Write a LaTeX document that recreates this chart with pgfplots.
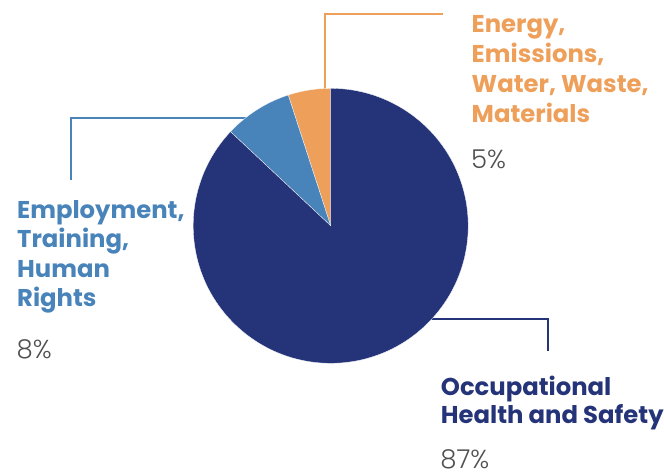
\documentclass[border=0pt]{standalone}
\usepackage{pgfplots}
\pgfplotsset{compat=1.18}
\usepackage{pgfplotstable}
\usepackage{fontspec}
\setmainfont{Poppins}
\newfontfamily\pctfont{Poppins Light}

\definecolor{cNavy}{RGB}{37,52,121}
\definecolor{cBlue}{RGB}{72,131,186}
\definecolor{cOrange}{RGB}{238,160,91}
\definecolor{cGrey}{RGB}{80,80,80}

% share of reported topics, counter-clockwise from 12 o'clock
\pgfplotstableread{
value
5
8
87
}\piedata

\newcommand\lab[1]{\fontsize{24.3bp}{30bp}\selectfont\bfseries #1}
\newcommand\pct[1]{\pctfont\fontsize{26bp}{30bp}\selectfont #1}

\begin{document}
\begin{tikzpicture}[x=1bp, y=-1bp]
\path[use as bounding box] (0,0) rectangle (664,476);

% leader lines
\draw[cOrange, line width=2bp] (325,90) -- (325,14) -- (443,14);
\draw[cBlue, line width=2bp] (250,118.3) -- (71,118.3) -- (71,180);
\draw[cNavy, line width=2bp] (420,319) -- (547.7,319) -- (547.7,350.7);

\begin{axis}[
    at={(330.7bp,-225.8bp)}, anchor=center,
    scale only axis, width=275bp, height=275bp,
    xmin=-1, xmax=1, ymin=-1, ymax=1,
    hide axis,
  ]
  \pgfplotsextra{%
    \gdef\startang{90}%
    \foreach \i/\col in {0/cOrange,1/cBlue,2/cNavy}{%
      \pgfplotstablegetelem{\i}{value}\of\piedata
      \pgfmathsetmacro\endang{\startang+3.6*\pgfplotsretval}%
      \fill[\col, draw=white, line width=0.3bp]
        (axis cs:0,0) -- (axis cs:{cos(\startang)},{sin(\startang)})
        arc[start angle=\startang, end angle=\endang, radius=137.5bp] -- cycle;
      \xdef\startang{\endang}%
    }%
  }
\end{axis}

% labels
\begin{scope}[every node/.style={anchor=base west, inner sep=0pt}]
  \node[cOrange] at (471.5,32.7) {\lab{Energy,}};
  \node[cOrange] at (471.5,62.7) {\lab{Emissions,}};
  \node[cOrange] at (471.5,92.7) {\lab{Water, Waste,}};
  \node[cOrange] at (471.5,122.7) {\lab{Materials}};
  \node[cGrey] at (471,168.3) {\pct{5\%}};

  \node[cBlue] at (17,218.3) {\lab{Employment,}};
  \node[cBlue] at (17,247.8) {\lab{Training,}};
  \node[cBlue] at (17,277.3) {\lab{Human}};
  \node[cBlue] at (17,306.8) {\lab{Rights}};
  \node[cGrey] at (16.5,358.3) {\pct{8\%}};

  \node[cNavy] at (440.7,395) {\lab{Occupational}};
  \node[cNavy] at (440.7,423.3) {\lab{Health and Safety}};
  \node[cGrey] at (440.2,468.5) {\pct{87\%}};
\end{scope}
\end{tikzpicture}
\end{document}
